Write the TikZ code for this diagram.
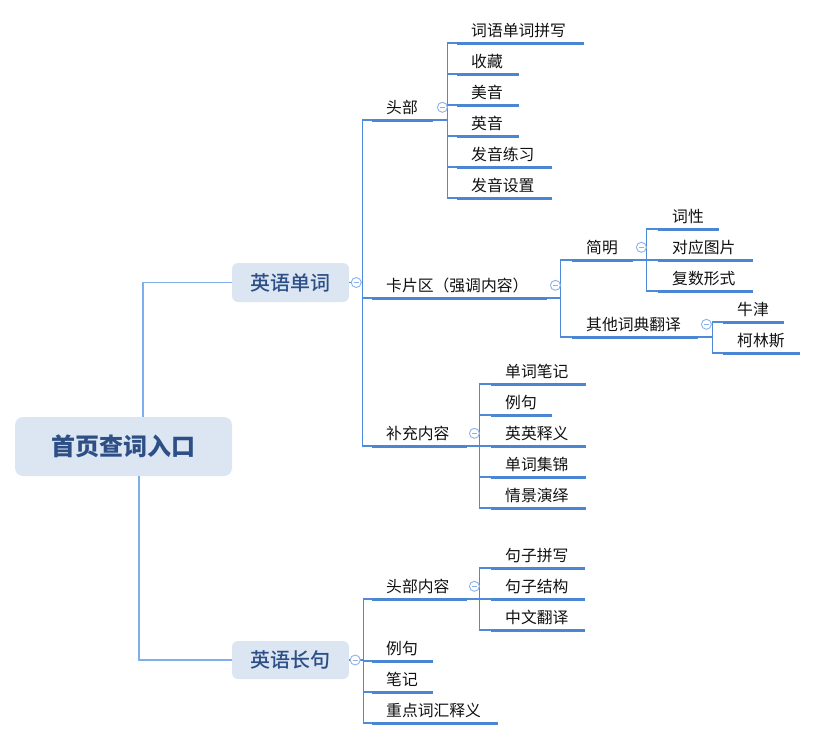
\documentclass[tikz,border=0pt]{standalone}
\usepackage{fontspec}
\setmainfont{Noto Sans CJK SC}
\newfontfamily\medfont{Noto Sans CJK SC Medium}
\usepackage{xcolor}
\usetikzlibrary{positioning}

\definecolor{linkblue}{HTML}{4F8AD9}
\definecolor{rootblue}{HTML}{7FAEEA}
\definecolor{ulblue}{HTML}{4A86D4}
\definecolor{foldblue}{HTML}{8AB2EC}
\definecolor{boxfill}{HTML}{DCE6F2}
\definecolor{boxtext}{HTML}{2D4F86}
\definecolor{leaftext}{HTML}{111111}

\tikzset{
  topic/.style={anchor=south west, inner xsep=14pt, inner ysep=0pt, minimum height=25pt,
    text width=#1pt, align=left, text height=12.5pt, text depth=1pt,
    font=\fontsize{15.8}{18}\selectfont, text=leaftext},
  mainbox/.style={fill=boxfill, rounded corners=6pt, text=boxtext, inner sep=0pt},
  link/.style={draw=linkblue, line width=1.2pt},
  rootlink/.style={draw=rootblue, line width=1.4pt},
  uline/.style={draw=ulblue, line width=3pt},
  fold/.style={circle, draw=foldblue, fill=white, line width=0.9pt, minimum size=10pt, inner sep=0pt,
    path picture={\draw[foldblue, line width=0.9pt] ([xshift=-2.5pt]path picture bounding box.center) -- ([xshift=2.5pt]path picture bounding box.center);}}
}

\begin{document}
\begin{tikzpicture}[x=1pt,y=-1pt]
  \useasboundingbox (0,0) rectangle (818,740);

  % main boxes
  \node[mainbox, minimum width=217pt, minimum height=59pt, rounded corners=8pt, font=\fontsize{24}{28}\selectfont\bfseries] (root) at (123.5,446.5) {首页查词入口};
  \node[mainbox, minimum width=117pt, minimum height=39pt, font=\medfont\fontsize{20}{24}\selectfont] (word) at (290.5,282.5) {英语单词};
  \node[mainbox, minimum width=117pt, minimum height=38pt, font=\medfont\fontsize{20}{24}\selectfont] (sent) at (290.5,660) {英语长句};

  % level 2 under word
  \node[topic=33] (toubu) at (372,120) {头部};
  \node[topic=147] (kapian) at (372,298) {卡片区（强调内容）};
  \node[topic=67] (buchong) at (372,446) {补充内容};

  % toubu
  \node[topic=99] (tb1) at (457,43) {词语单词拼写};
  \node[topic=34] (tb2) at (457,74) {收藏};
  \node[topic=34] (tb3) at (457,105) {美音};
  \node[topic=34] (tb4) at (457,136) {英音};
  \node[topic=67] (tb5) at (457,167) {发音练习};
  \node[topic=67] (tb6) at (457,198) {发音设置};

  % kapian
  \node[topic=33] (jianming) at (572,260) {简明};
  \node[topic=98] (qita) at (572,337) {其他词典翻译};
  \node[topic=33] (jm1) at (658,229) {词性};
  \node[topic=67] (jm2) at (658,260) {对应图片};
  \node[topic=67] (jm3) at (658,291) {复数形式};
  \node[topic=33] (qt1) at (723,322) {牛津};
  \node[topic=49] (qt2) at (723,353) {柯林斯};

  % buchong
  \node[topic=67] (bc1) at (491,384) {单词笔记};
  \node[topic=33] (bc2) at (491,415) {例句};
  \node[topic=67] (bc3) at (491,446) {英英释义};
  \node[topic=67] (bc4) at (491,477) {单词集锦};
  \node[topic=67] (bc5) at (491,508) {情景演绎};

  % level 2 under sent
  \node[topic=67] (tbnr) at (372,599) {头部内容};
  \node[topic=33] (liju) at (372,661) {例句};
  \node[topic=33] (biji) at (372,692) {笔记};
  \node[topic=98] (zhongdian) at (372,723) {重点词汇释义};
  \node[topic=66] (jz1) at (491,568) {句子拼写};
  \node[topic=66] (jz2) at (491,599) {句子结构};
  \node[topic=66] (jz3) at (491,630) {中文翻译};

  % connectors
  \draw[rootlink] ([xshift=19.5pt]root.north) |- (word.west);
  \draw[rootlink] ([xshift=15.5pt]root.south) |- (sent.west);
  \foreach \c in {toubu,kapian,buchong}
    \draw[link] (word.east) -- ++(13,0) |- (\c.south west);
  \foreach \c in {tbnr,liju,biji,zhongdian}
    \draw[link] (sent.east) -- ++(14,0) |- (\c.south west);
  \foreach \c in {tb1,tb2,tb3,tb4,tb5,tb6}
    \draw[link] (toubu.south east) -- ++(14,0) |- (\c.south west);
  \foreach \c in {jianming,qita}
    \draw[link] (kapian.south east) -- ++(13,0) |- (\c.south west);
  \foreach \c in {jm1,jm2,jm3}
    \draw[link] (jianming.south east) -- ++(13,0) |- (\c.south west);
  \foreach \c in {qt1,qt2}
    \draw[link] (qita.south east) -- ++(14,0) |- (\c.south west);
  \foreach \c in {bc1,bc2,bc3,bc4,bc5}
    \draw[link] (buchong.south east) -- ++(12,0) |- (\c.south west);
  \foreach \c in {jz1,jz2,jz3}
    \draw[link] (tbnr.south east) -- ++(12,0) |- (\c.south west);

  % underlines
  \foreach \n in {toubu,kapian,buchong,tb1,tb2,tb3,tb4,tb5,tb6,jianming,qita,jm1,jm2,jm3,qt1,qt2,bc1,bc2,bc3,bc4,bc5,tbnr,liju,biji,zhongdian,jz1,jz2,jz3}
    \draw[uline] (\n.south west) -- (\n.south east);

  % fold marks
  \node[fold] (fword) at ([xshift=7pt]word.east) {};
  \node[fold] (fsent) at ([xshift=6pt]sent.east) {};
  \node[fold] (ftoubu) at ([xshift=9pt]toubu.east) {};
  \node[fold] (fkapian) at ([xshift=8pt]kapian.east) {};
  \node[fold] (fjianming) at ([xshift=8pt]jianming.east) {};
  \node[fold] (fqita) at ([xshift=8pt]qita.east) {};
  \node[fold] (fbuchong) at ([xshift=7pt]buchong.east) {};
  \node[fold] (ftbnr) at ([xshift=7pt]tbnr.east) {};
\end{tikzpicture}
\end{document}
